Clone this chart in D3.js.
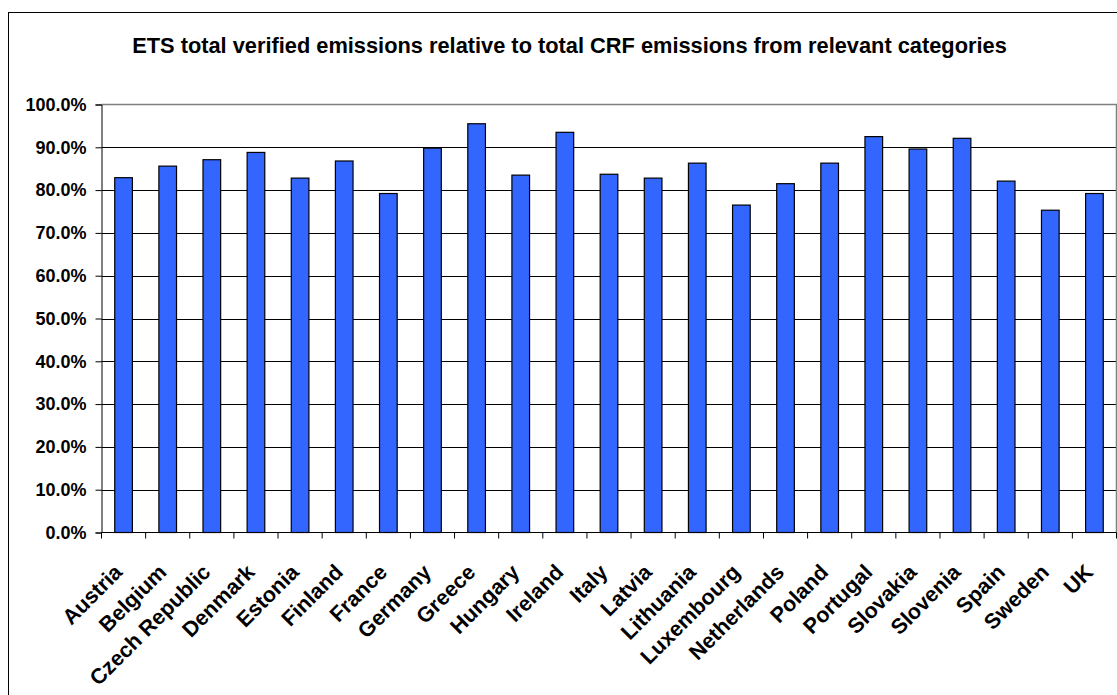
<!DOCTYPE html>
<html>
<head>
<meta charset="utf-8">
<script src="https://cdn.jsdelivr.net/npm/d3@7"></script>
<style>
  html, body { margin: 0; padding: 0; background: #fff; }
  svg { display: block; font-family: "Liberation Sans", Arial, sans-serif; }
</style>
</head>
<body>
<svg id="chart" width="1117" height="695"></svg>
<script>
// Share of ETS verified emissions in CRF emissions of the relevant categories (%)
const countries = [
  "Austria", "Belgium", "Czech Republic", "Denmark", "Estonia", "Finland",
  "France", "Germany", "Greece", "Hungary", "Ireland", "Italy", "Latvia",
  "Lithuania", "Luxembourg", "Netherlands", "Poland", "Portugal", "Slovakia",
  "Slovenia", "Spain", "Sweden", "UK"
];
const shares = [
  82.9, 85.6, 87.1, 88.8, 82.8, 86.8,
  79.2, 89.8, 95.5, 83.5, 93.5, 83.7, 82.8,
  86.3, 76.5, 81.5, 86.3, 92.5, 89.6,
  92.1, 82.1, 75.3, 79.2
];
const yTicks = [0, 10, 20, 30, 40, 50, 60, 70, 80, 90, 100];
const title = "ETS total verified emissions relative to total CRF emissions from relevant categories";

const svg = d3.select("#chart");
const plot = { left: 101.5, right: 1116.5, top: 104.5, bottom: 532.5 };

// chart frame (continues past the visible edges)
svg.append("rect")
  .attr("x", 8.5).attr("y", 12.5)
  .attr("width", 1300).attr("height", 900)
  .attr("fill", "#fff").attr("stroke", "#000").attr("stroke-width", 1);

svg.append("text")
  .attr("x", 569.5).attr("y", 52.7)
  .attr("text-anchor", "middle")
  .attr("font-size", 21.8).attr("font-weight", "bold")
  .attr("fill", "#000")
  .text(title);

const x = d3.scaleBand()
  .domain(countries)
  .range([plot.left, plot.right])
  .paddingInner(0.6)
  .paddingOuter(0.3);

const y = d3.scaleLinear().domain([0, 100]).range([plot.bottom, plot.top]);

// gridlines
svg.append("g")
  .selectAll("line")
  .data(yTicks.filter(t => t > 0 && t < 100))
  .join("line")
  .attr("x1", plot.left).attr("x2", plot.right)
  .attr("y1", d => Math.round(y(d)) + 0.5).attr("y2", d => Math.round(y(d)) + 0.5)
  .attr("stroke", "#000").attr("stroke-width", 1);

// plot-area border (top and right)
svg.append("path")
  .attr("d", `M${plot.left},${plot.top}H${plot.right}V${plot.bottom}`)
  .attr("fill", "none").attr("stroke", "#808080").attr("stroke-width", 1.5);

// bars
svg.append("g")
  .selectAll("rect")
  .data(countries.map((c, i) => ({ c, v: shares[i] })))
  .join("rect")
  .attr("x", d => x(d.c))
  .attr("y", d => y(d.v))
  .attr("width", x.bandwidth())
  .attr("height", d => y(0) - y(d.v))
  .attr("fill", "#3366ff")
  .attr("stroke", "#000")
  .attr("stroke-width", 1.2);

// y axis
const yAxis = d3.axisLeft(y)
  .tickValues(yTicks)
  .tickSize(6)
  .tickPadding(9)
  .tickFormat(d => d.toFixed(1) + "%");
const gy = svg.append("g")
  .attr("transform", `translate(${plot.left},0)`)
  .call(yAxis);
gy.select(".domain").attr("stroke", "#000");
gy.selectAll(".tick line").attr("stroke", "#000");
gy.selectAll(".tick text")
  .attr("font-family", "Liberation Sans, Arial, sans-serif")
  .attr("font-size", 18).attr("font-weight", "bold").attr("fill", "#000");

// x axis: baseline and ticks at category boundaries
const step = x.step();
const bounds = d3.range(countries.length + 1).map(i => x(countries[0]) - step * x.paddingOuter() + step * i);
svg.append("line")
  .attr("x1", plot.left).attr("x2", plot.right)
  .attr("y1", plot.bottom).attr("y2", plot.bottom)
  .attr("stroke", "#000").attr("stroke-width", 1);
svg.append("g")
  .selectAll("line")
  .data(bounds)
  .join("line")
  .attr("x1", d => d).attr("x2", d => d)
  .attr("y1", plot.bottom).attr("y2", plot.bottom + 6)
  .attr("stroke", "#000").attr("stroke-width", 1);

// rotated category labels, baseline ending under each category centre
svg.append("g")
  .selectAll("text")
  .data(countries)
  .join("text")
  .attr("transform", d => `translate(${x(d) + x.bandwidth() / 2},${plot.bottom + 41}) rotate(-45)`)
  .attr("text-anchor", "end")
  .attr("font-size", 21.5).attr("font-weight", "bold").attr("fill", "#000")
  .text(d => d);
</script>
</body>
</html>
